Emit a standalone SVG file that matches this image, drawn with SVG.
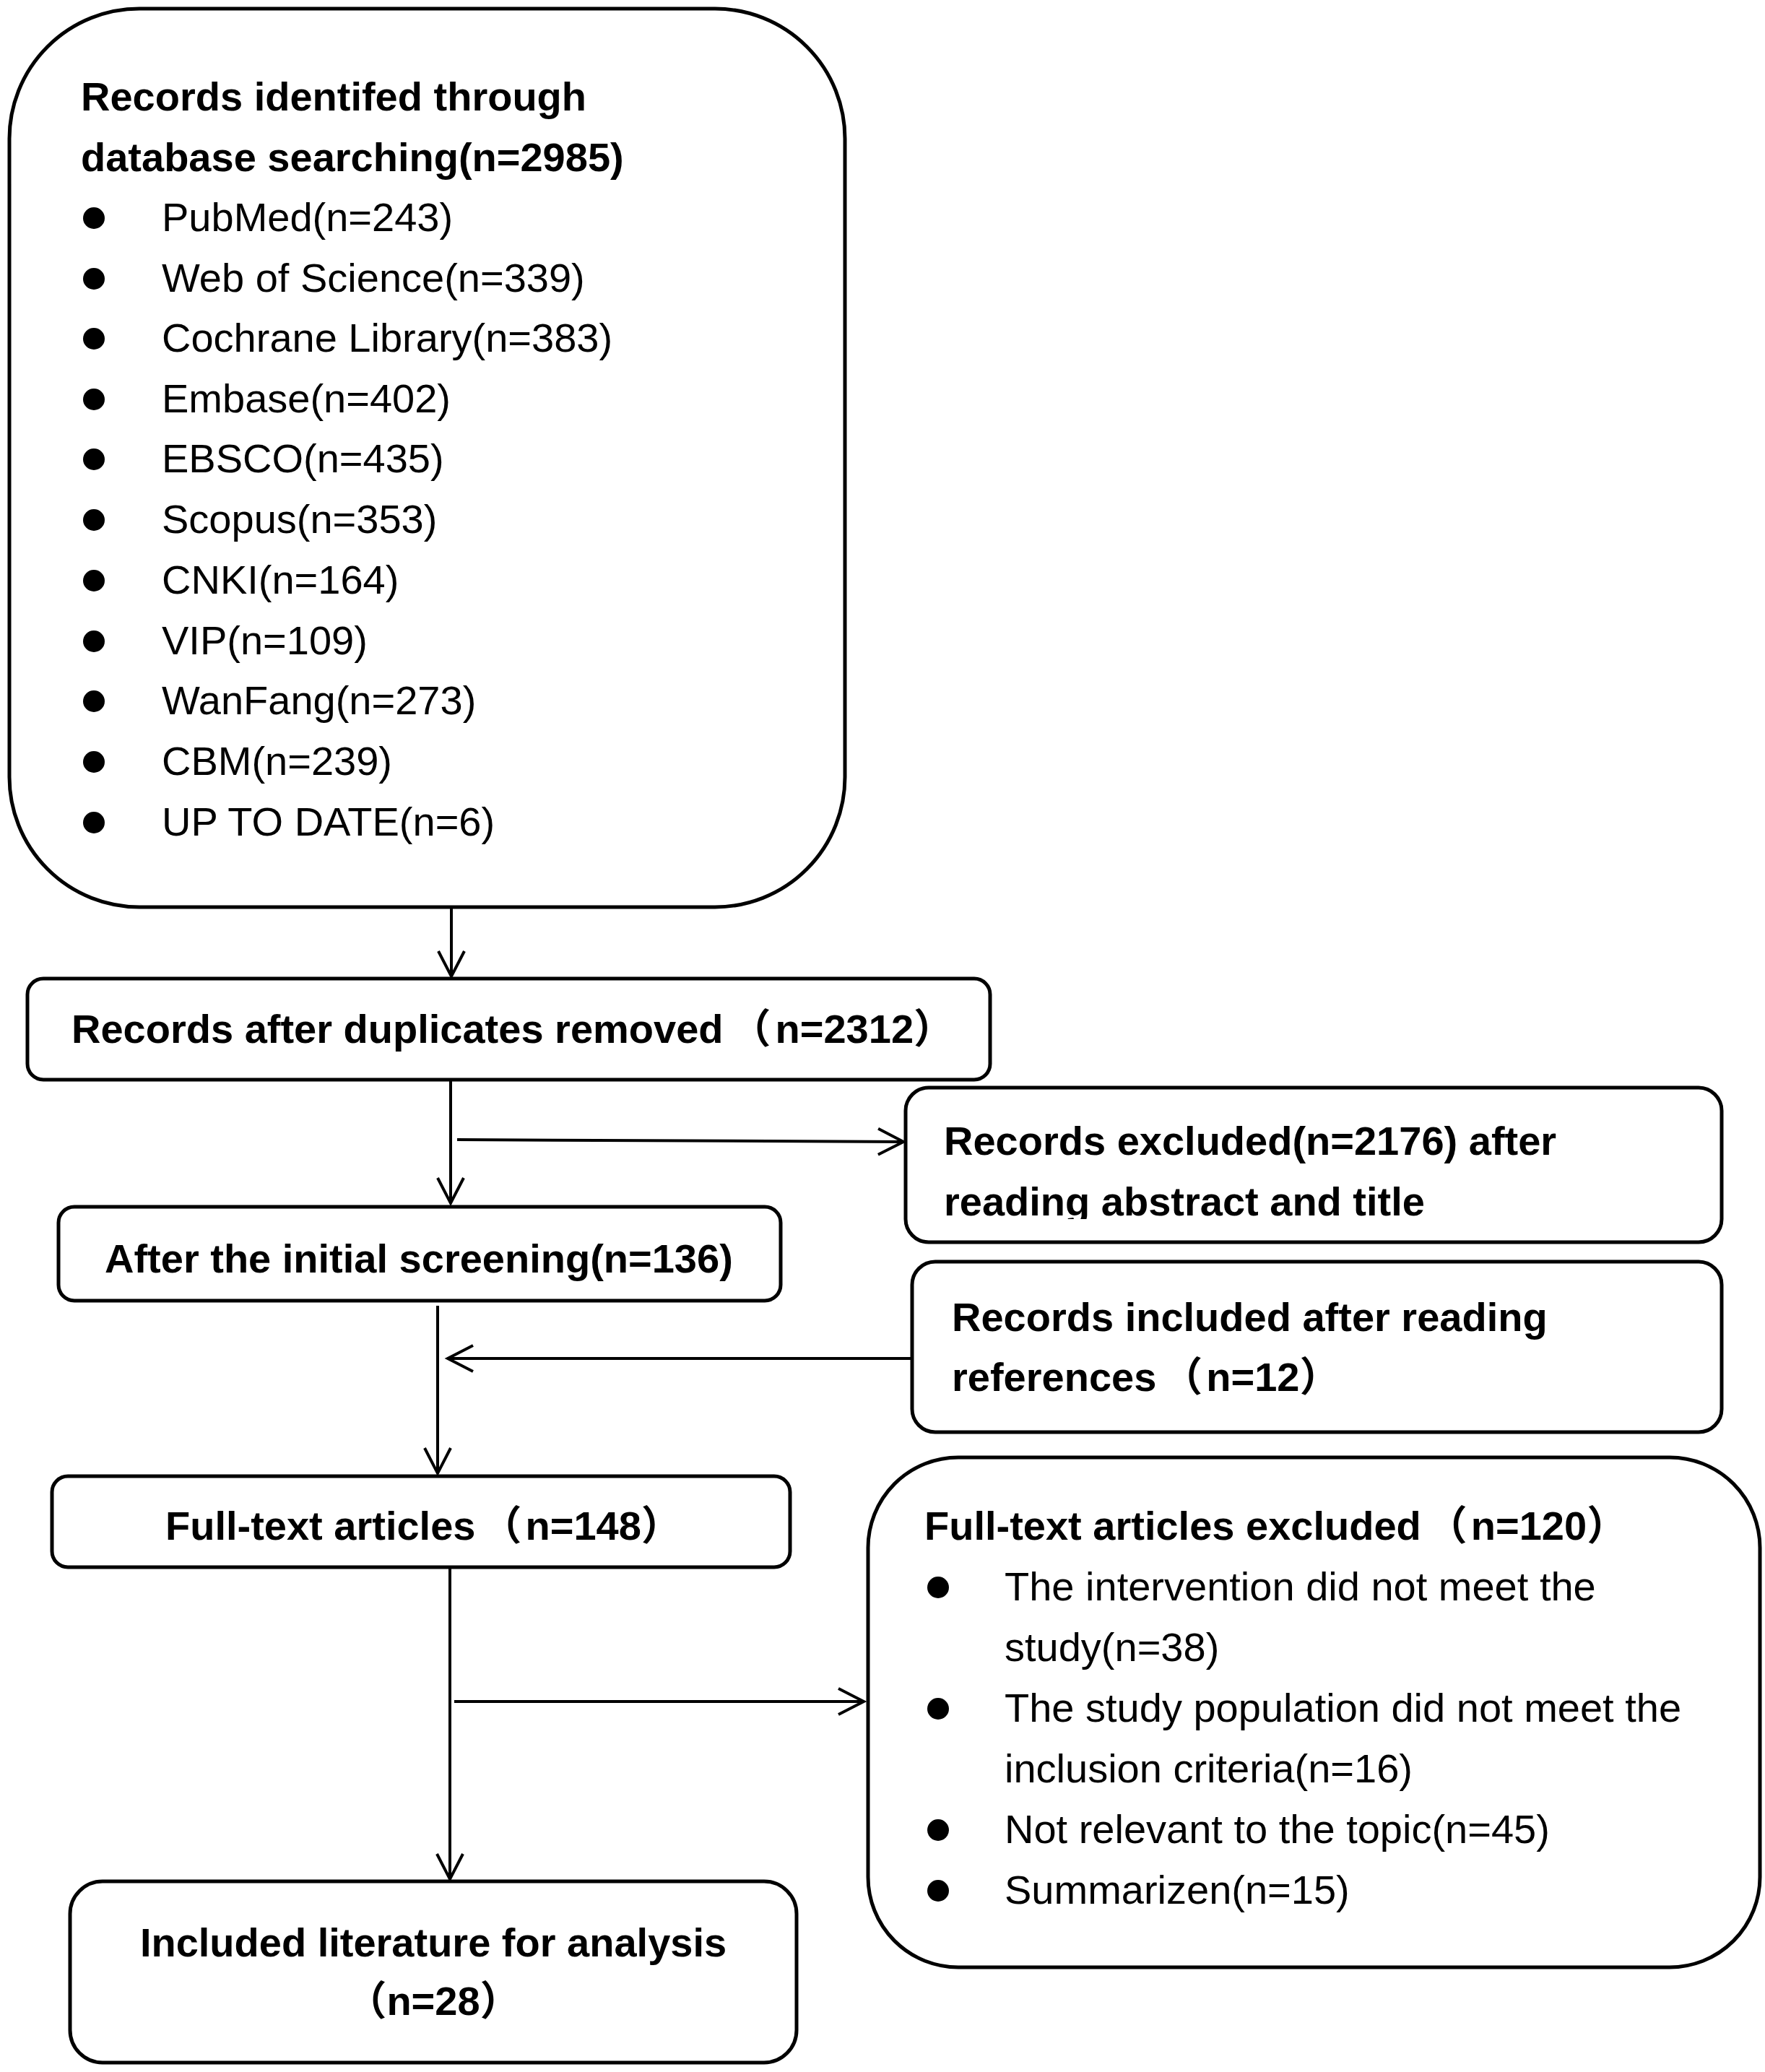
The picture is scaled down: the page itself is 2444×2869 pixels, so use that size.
<svg xmlns="http://www.w3.org/2000/svg" width="2444" height="2869" viewBox="0 0 2444 2869">
<style>
.box{fill:#fff;stroke:#000;stroke-width:5}
.con{fill:none;stroke:#000;stroke-width:4}
text{font-family:"Liberation Sans","Noto Sans CJK SC",sans-serif;font-size:56px;fill:#000}
.b{font-weight:bold}
.dot{fill:#000}
</style>
<defs>
<marker id="arr" markerUnits="userSpaceOnUse" markerWidth="45" markerHeight="50" viewBox="-40 -25 45 50" refX="0" refY="0" orient="auto">
<path d="M-35,-18 L0,0 L-35,18" fill="none" stroke="#000" stroke-width="4"/>
</marker>
<clipPath id="clip3"><rect x="1253" y="1505" width="1130" height="183"/></clipPath>
</defs>
<rect width="2444" height="2869" fill="#fff"/>

<g id="connectors">
<line class="con" x1="625" y1="1256" x2="625" y2="1352" marker-end="url(#arr)"/>
<line class="con" x1="624" y1="1495" x2="624" y2="1666" marker-end="url(#arr)"/>
<line class="con" x1="633" y1="1578" x2="1251" y2="1581" marker-end="url(#arr)"/>
<line class="con" x1="1262" y1="1881" x2="620" y2="1881" marker-end="url(#arr)"/>
<line class="con" x1="606" y1="1808" x2="606" y2="2040" marker-end="url(#arr)"/>
<line class="con" x1="623" y1="2170" x2="623" y2="2602" marker-end="url(#arr)"/>
<line class="con" x1="629" y1="2356" x2="1196" y2="2356" marker-end="url(#arr)"/>
</g>

<g id="node-search">
<rect class="box" x="13" y="12" width="1157" height="1244" rx="180" ry="180"/>
<text class="b" x="112" y="153">Records identifed through</text>
<text class="b" x="112" y="237">database searching(n=2985)</text>
<circle class="dot" cx="130" cy="302" r="15"/><text x="224" y="320">PubMed(n=243)</text>
<circle class="dot" cx="130" cy="386" r="15"/><text x="224" y="404">Web of Science(n=339)</text>
<circle class="dot" cx="130" cy="469" r="15"/><text x="224" y="487">Cochrane Library(n=383)</text>
<circle class="dot" cx="130" cy="553" r="15"/><text x="224" y="571">Embase(n=402)</text>
<circle class="dot" cx="130" cy="636" r="15"/><text x="224" y="654">EBSCO(n=435)</text>
<circle class="dot" cx="130" cy="720" r="15"/><text x="224" y="738">Scopus(n=353)</text>
<circle class="dot" cx="130" cy="804" r="15"/><text x="224" y="822">CNKI(n=164)</text>
<circle class="dot" cx="130" cy="888" r="15"/><text x="224" y="906">VIP(n=109)</text>
<circle class="dot" cx="130" cy="971" r="15"/><text x="224" y="989">WanFang(n=273)</text>
<circle class="dot" cx="130" cy="1055" r="15"/><text x="224" y="1073">CBM(n=239)</text>
<circle class="dot" cx="130" cy="1139" r="15"/><text x="224" y="1157">UP TO DATE(n=6)</text>
</g>

<g id="node-duplicates">
<rect class="box" x="38" y="1355" width="1333" height="140" rx="22" ry="22"/>
<text class="b" x="99" y="1444">Records after duplicates removed<tspan dx="10">（</tspan><tspan dx="6">n=2312）</tspan></text>
</g>

<g id="node-excluded-abstract">
<rect class="box" x="1254" y="1506" width="1130" height="214" rx="32" ry="32"/>
<g clip-path="url(#clip3)">
<text class="b" x="1307" y="1599">Records excluded(n=2176) after</text>
<text class="b" x="1307" y="1683">reading abstract and title</text>
</g>
</g>

<g id="node-initial-screening">
<rect class="box" x="81" y="1671" width="1000" height="130" rx="22" ry="22"/>
<text class="b" x="145" y="1762">After the initial screening(n=136)</text>
</g>

<g id="node-included-refs">
<rect class="box" x="1263" y="1747" width="1121" height="236" rx="32" ry="32"/>
<text class="b" x="1318" y="1843">Records included after reading</text>
<text class="b" x="1318" y="1926">references<tspan dx="8">（</tspan><tspan dx="5">n=12）</tspan></text>
</g>

<g id="node-fulltext">
<rect class="box" x="72" y="2044" width="1022" height="126" rx="22" ry="22"/>
<text class="b" x="229" y="2132">Full-text articles<tspan dx="8">（</tspan><tspan dx="5">n=148）</tspan></text>
</g>

<g id="node-fulltext-excluded">
<rect class="box" x="1202" y="2018" width="1235" height="706" rx="125" ry="125"/>
<text class="b" x="1280" y="2132">Full-text articles excluded<tspan dx="8">（</tspan><tspan dx="5">n=120）</tspan></text>
<circle class="dot" cx="1299" cy="2198" r="15"/><text x="1391" y="2216">The intervention did not meet the</text>
<text x="1391" y="2300">study(n=38)</text>
<circle class="dot" cx="1299" cy="2366" r="15"/><text x="1391" y="2384">The study population did not meet the</text>
<text x="1391" y="2468">inclusion criteria(n=16)</text>
<circle class="dot" cx="1299" cy="2534" r="15"/><text x="1391" y="2552">Not relevant to the topic(n=45)</text>
<circle class="dot" cx="1299" cy="2618" r="15"/><text x="1391" y="2636">Summarizen(n=15)</text>
</g>

<g id="node-included">
<rect class="box" x="97" y="2605" width="1006" height="251" rx="45" ry="45"/>
<text class="b" x="600" y="2709" text-anchor="middle">Included literature for analysis</text>
<text class="b" x="600" y="2790" text-anchor="middle">（n=28）</text>
</g>
</svg>
